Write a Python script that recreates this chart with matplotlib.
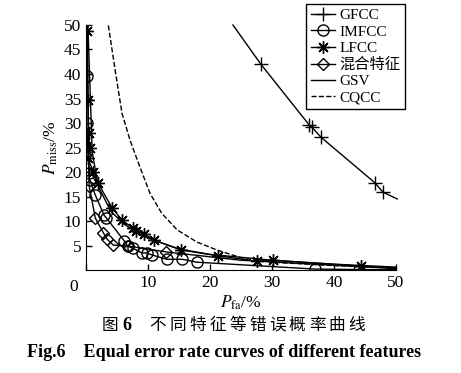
import matplotlib
matplotlib.use('Agg')
import matplotlib.pyplot as plt

plt.rcParams['font.family'] = ['Liberation Serif', 'Noto Sans CJK SC']
plt.rcParams['mathtext.fontset'] = 'stix'

gfcc_x = [23.7, 28.2, 36.0, 36.4, 37.9, 46.6, 47.9, 50.2]
gfcc_y = [50.0, 42.0, 29.6, 29.2, 27.1, 17.8, 15.9, 14.5]

imfcc_x = [0.1, 0.1, 0.5, 0.6, 1.5, 2.9, 3.3, 6.2, 6.7, 7.5, 9.0, 9.8, 10.6, 13.0, 15.5, 17.9, 37.0, 44.1, 50.0]
imfcc_y = [39.6, 30.0, 19.8, 18.4, 15.3, 11.2, 10.6, 5.9, 4.9, 4.5, 3.5, 3.5, 3.1, 2.2, 2.2, 1.6, 0.2, 0.1, 0.1]

lfcc_x = [0.2, 0.3, 0.4, 0.6, 0.3, 1.2, 1.9, 4.2, 5.8, 7.5, 8.1, 9.4, 11.0, 15.3, 21.3, 27.6, 30.1, 44.4, 50.0]
lfcc_y = [48.8, 34.6, 28.0, 25.0, 22.8, 20.0, 17.8, 12.7, 10.2, 8.6, 8.0, 7.3, 6.1, 4.1, 2.9, 1.8, 2.0, 0.8, 0.4]

mix_x = [0.2, 0.5, 1.5, 2.8, 3.4, 4.4, 6.8, 12.9, 25.0, 50.0]
mix_y = [50.0, 17.2, 10.6, 7.6, 6.3, 5.1, 4.9, 3.7, 2.0, 0.3]

gsv_x = [0.3, 1.0, 2.0, 4.0, 6.0, 8.0, 10.0, 15.0, 20.0, 30.0, 40.0, 50.0]
gsv_y = [50.0, 24.0, 17.0, 12.0, 9.5, 7.8, 6.5, 4.3, 3.2, 2.0, 1.2, 0.6]

cqcc_x = [3.6, 4.7, 5.8, 7.1, 8.7, 10.3, 12.2, 14.7, 17.9, 21.1, 25.3, 30.0, 40.0, 50.0]
cqcc_y = [49.9, 40.8, 32.0, 26.5, 21.0, 15.7, 11.6, 8.2, 5.7, 4.1, 2.4, 1.6, 0.9, 0.5]

fig = plt.figure(figsize=(4.61, 3.73), dpi=100)
ax = fig.add_axes([0.1866, 0.276, 0.6724, 0.657])

star = (8, 2, 0)
ax.plot(gfcc_x, gfcc_y, 'k-', lw=1, marker='+', ms=10, mew=1, markevery=list(range(1, 7)), label='GFCC', clip_on=False)
ax.plot(imfcc_x, imfcc_y, 'k-', lw=1, marker='o', ms=8, mfc='none', mew=1, markevery=list(range(0, 18)), label='IMFCC')
ax.plot(lfcc_x, lfcc_y, 'k-', lw=1, marker=star, ms=9, mew=1, markevery=list(range(0, 18)), label='LFCC')
ax.plot(mix_x, mix_y, 'k-', lw=1, marker='D', ms=6, mfc='none', mew=1, markevery=list(range(1, 8)), label='混合特征')
ax.plot(gsv_x, gsv_y, 'k-', lw=1, label='GSV')
ax.plot(cqcc_x, cqcc_y, 'k--', lw=1, label='CQCC')

ax.set_xlim(0, 50)
ax.set_ylim(0, 50)
ax.spines['top'].set_visible(False)
ax.spines['right'].set_visible(False)
ax.set_xticks([0, 10, 20, 30, 40, 50])
ax.set_xticklabels(['', '10', '20', '30', '40', '50'])
ax.set_yticks([5, 10, 15, 20, 25, 30, 35, 40, 45, 50])
ax.tick_params(direction='in', length=4, labelsize=12.5, width=1)
ax.text(-0.04, -0.035, '0', transform=ax.transAxes, ha='center', va='top', fontsize=12.5)

ax.set_xlabel(r'$P_{\rm fa}$/%', fontsize=12.5, labelpad=2)
ax.set_ylabel(r'$P_{\rm miss}$/%', fontsize=12.5, labelpad=3)

leg = fig.legend(loc='upper left', bbox_to_anchor=(0.664, 0.989), borderaxespad=0,
                 fontsize=11, handlelength=1.6, handletextpad=0.3, labelspacing=0.17,
                 borderpad=0.3, fancybox=False, edgecolor='black', framealpha=1)
leg.get_frame().set_linewidth(1)

# Chinese caption, spaced out character by character
cap_font = ['Noto Sans CJK SC', 'DejaVu Sans']
fig.text(102 / 461, 0.128, '图', ha='left', va='center', fontsize=12, family=cap_font, fontweight='medium')
fig.text(122 / 461, 0.128, '6', ha='left', va='center', fontsize=13, fontweight='bold')
for i, ch in enumerate('不同特征等错误概率曲线'):
    fig.text((158 + i * 19.9) / 461, 0.128, ch, ha='center', va='center',
             fontsize=12, family=cap_font, fontweight='medium')
fig.text(0.485, 0.055, 'Fig.6    Equal error rate curves of different features', ha='center',
         va='center', fontsize=13, fontweight='bold')

fig.savefig('out.png', dpi=100)
